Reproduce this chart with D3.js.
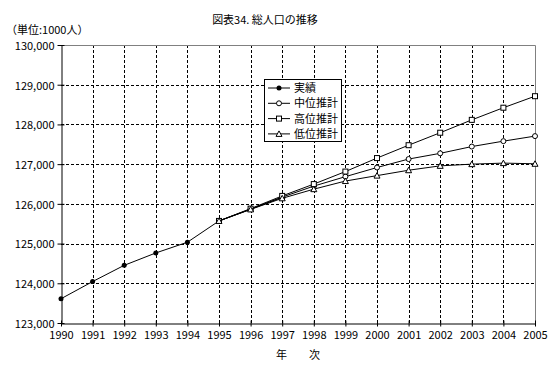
<!DOCTYPE html>
<html>
<head>
<meta charset="utf-8">
<script src="https://cdn.jsdelivr.net/npm/d3@7"></script>
<style>
  body { margin: 0; background: #fff; }
  svg { display: block; }
  text { font-family: "Noto Sans CJK JP", sans-serif; font-size: 11px; fill: #000; }
</style>
</head>
<body>
<div id="chart"></div>
<script>
// years and series (unit: 1000 persons)
const years = d3.range(1990, 2006);
const actualYears = [1990, 1991, 1992, 1993, 1994, 1995, 1996, 1997];
const actual = [123611, 124043, 124452, 124764, 125034, 125570, 125864, 126166];
const projYears = [1995, 1996, 1997, 1998, 1999, 2000, 2001, 2002, 2003, 2004, 2005];
const medium = [125570, 125869, 126170, 126447, 126685, 126915, 127128, 127272, 127443, 127579, 127706];
const high = [125570, 125880, 126200, 126498, 126813, 127153, 127477, 127791, 128115, 128421, 128711];
const low = [125570, 125860, 126140, 126370, 126574, 126711, 126847, 126957, 127000, 127026, 127009];
const yTicks = [123000, 124000, 125000, 126000, 127000, 128000, 129000, 130000];
const legendLabels = ["実績", "中位推計", "高位推計", "低位推計"];

const width = 550, height = 374;
const margin = {top: 45, right: 15, bottom: 51, left: 61};

const svg = d3.select("#chart").append("svg")
    .attr("width", width)
    .attr("height", height);

const x = d3.scaleLinear().domain([1990, 2005]).range([margin.left, width - margin.right]);
const y = d3.scaleLinear().domain([123000, 130000]).range([height - margin.bottom, margin.top]);

// title
svg.append("text")
    .attr("x", 265).attr("y", 24)
    .attr("text-anchor", "middle")
    .text("図表34. 総人口の推移");
svg.append("text")
    .attr("x", 6).attr("y", 34)
    .text("（単位:1000人）");

// grid
svg.append("g")
    .selectAll("line")
    .data(yTicks.slice(1, -1))
    .join("line")
    .attr("x1", x(1990)).attr("x2", x(2005))
    .attr("y1", d => Math.round(y(d)) + 0.5).attr("y2", d => Math.round(y(d)) + 0.5)
    .attr("stroke", "#000")
    .attr("stroke-dasharray", "3,2");
svg.append("g")
    .selectAll("line")
    .data(years.slice(1, -1))
    .join("line")
    .attr("x1", d => Math.round(x(d)) + 0.5).attr("x2", d => Math.round(x(d)) + 0.5)
    .attr("y1", y(130000)).attr("y2", y(123000))
    .attr("stroke", "#000")
    .attr("stroke-dasharray", "3,2");

// plot frame (top/right grey)
svg.append("path")
    .attr("d", `M${x(1990)},${Math.round(y(130000)) + 0.5}H${Math.round(x(2005)) + 0.5}V${y(123000)}`)
    .attr("fill", "none")
    .attr("stroke", "#808080");

// axes
const yAxis = svg.append("g")
    .attr("transform", `translate(${Math.round(x(1990)) + 0.5},0)`)
    .call(d3.axisLeft(y).tickValues(yTicks).tickFormat(d3.format(",")).tickSize(4).tickSizeOuter(0).tickPadding(3));
yAxis.selectAll("line").attr("x2", 3).attr("x1", -4);
yAxis.selectAll(".tick text").attr("dy", "0.4em");
const xAxis = svg.append("g")
    .attr("transform", `translate(0,${Math.round(y(123000)) + 0.5})`)
    .call(d3.axisBottom(x).tickValues(years).tickFormat(d3.format("d")).tickSize(3).tickSizeOuter(0).tickPadding(5));
xAxis.selectAll("line").attr("y1", -3);
svg.selectAll(".domain").attr("stroke", "#000");
svg.selectAll(".tick text").style("font-family", "\"Noto Sans CJK JP\", sans-serif").style("font-size", "11px").attr("fill", "#000");

svg.append("text")
    .attr("x", 298).attr("y", 359)
    .attr("text-anchor", "middle")
    .attr("xml:space", "preserve")
    .text("年　　次");

// series
const line = d3.line().x(d => x(d[0])).y(d => y(d[1]));
const series = [
    {name: legendLabels[0], xs: actualYears, vs: actual, mark: "dot"},
    {name: legendLabels[1], xs: projYears, vs: medium, mark: "circle"},
    {name: legendLabels[2], xs: projYears, vs: high, mark: "square"},
    {name: legendLabels[3], xs: projYears, vs: low, mark: "triangle"}
];

function marker(g, type, cx, cy) {
    if (type === "dot") {
        g.append("circle").attr("cx", cx).attr("cy", cy).attr("r", 2.5).attr("fill", "#000");
    } else if (type === "circle") {
        g.append("circle").attr("cx", cx).attr("cy", cy).attr("r", 2.5).attr("fill", "#fff").attr("stroke", "#000");
    } else if (type === "square") {
        g.append("rect").attr("x", cx - 2.5).attr("y", cy - 2.5).attr("width", 5).attr("height", 5).attr("fill", "#fff").attr("stroke", "#000");
    } else {
        g.append("path").attr("d", `M${cx},${cy - 3}L${cx + 3},${cy + 2.5}L${cx - 3},${cy + 2.5}Z`).attr("fill", "#fff").attr("stroke", "#000");
    }
}

series.forEach(s => {
    const pts = s.xs.map((yr, i) => [yr, s.vs[i]]);
    svg.append("path")
        .datum(pts)
        .attr("d", line)
        .attr("fill", "none")
        .attr("stroke", "#000")
        .attr("stroke-width", 1);
    const g = svg.append("g");
    pts.forEach(p => marker(g, s.mark, x(p[0]), y(p[1])));
});

// legend
const legend = svg.append("g");
legend.append("rect")
    .attr("x", 264.5).attr("y", 79.5)
    .attr("width", 77).attr("height", 62)
    .attr("fill", "#fff")
    .attr("stroke", "#000");
series.forEach((s, i) => {
    const ly = 88 + i * 15.3;
    legend.append("line")
        .attr("x1", 268).attr("x2", 290)
        .attr("y1", ly).attr("y2", ly)
        .attr("stroke", "#000");
    marker(legend, s.mark, 279, ly);
    legend.append("text")
        .attr("x", 294).attr("y", ly + 4)
        .text(s.name);
});
</script>
</body>
</html>
